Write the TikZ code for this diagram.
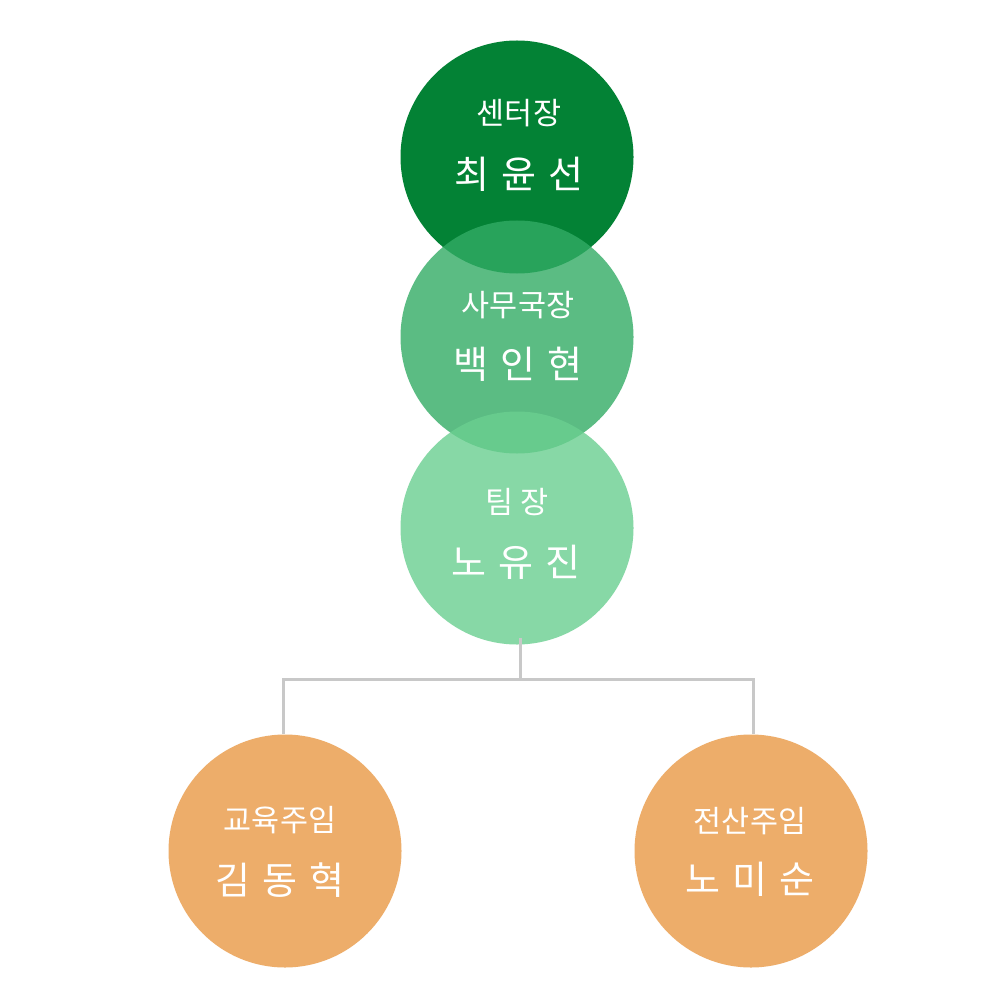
\documentclass[tikz,border=0pt]{standalone}
\usepackage{fontspec}
\setmainfont{Noto Sans CJK KR}
\definecolor{gdark}{RGB}{3,130,53}
\definecolor{gmid}{RGB}{50,172,101}
\definecolor{glight}{RGB}{106,207,144}
\definecolor{orng}{RGB}{237,173,106}
\definecolor{conncol}{RGB}{200,200,200}
\tikzset{
  bubble/.style={circle, minimum size=233pt, inner sep=0pt, draw=none},
  role/.style={text=white, font=\fontsize{30.5}{34}\selectfont, inner sep=0pt},
  pname/.style={text=white, font=\fontsize{38}{42}\selectfont, inner sep=0pt},
  conn/.style={draw=conncol, line width=3pt},
}
\newcommand{\gp}{\hspace{0.32em}}
\begin{document}
\begin{tikzpicture}[x=1pt,y=-1pt]
\useasboundingbox[fill=white] (0,0) rectangle (1000,1000);
\node[bubble, fill=gdark] (c1) at (517,157) {};
\node[bubble, fill=gmid, fill opacity=0.8] (c2) at (517,337) {};
\node[bubble, fill=glight, fill opacity=0.8] (c3) at (517,528) {};
\node[bubble, fill=orng] (c4) at (285,851) {};
\node[bubble, fill=orng] (c5) at (751,851) {};

\node[role] (r1) at (519,113) {센터장};
\node[pname] (n1) at (519,174) {최\gp 윤\gp 선};
\node[role] (r2) at (518,305) {사무국장};
\node[pname] (n2) at (518,364) {백\gp 인\gp 현};
\node[role] (r3) at (517,502) {팀\hspace{0.25em}장};
\node[pname] (n3) at (516,562) {노\gp 유\gp 진};
\node[role] (r4) at (280,820) {교육주임};
\node[pname] (n4) at (280,880) {김\gp 동\gp 혁};
\node[role] (r5) at (750,821) {전산주임};
\node[pname] (n5) at (750,879) {노\gp 미\gp 순};

\coordinate (j) at (520,679);
\coordinate (jl) at (283,679);
\coordinate (jr) at (753,679);
\draw[conn] ([xshift=3pt,yshift=7pt]c3.south) -- (j);
\draw[conn, line join=miter] (j) -- (jl) -- (jl |- c4.north);
\draw[conn, line join=miter] (j) -- (jr) -- (jr |- c5.north);
\end{tikzpicture}
\end{document}
